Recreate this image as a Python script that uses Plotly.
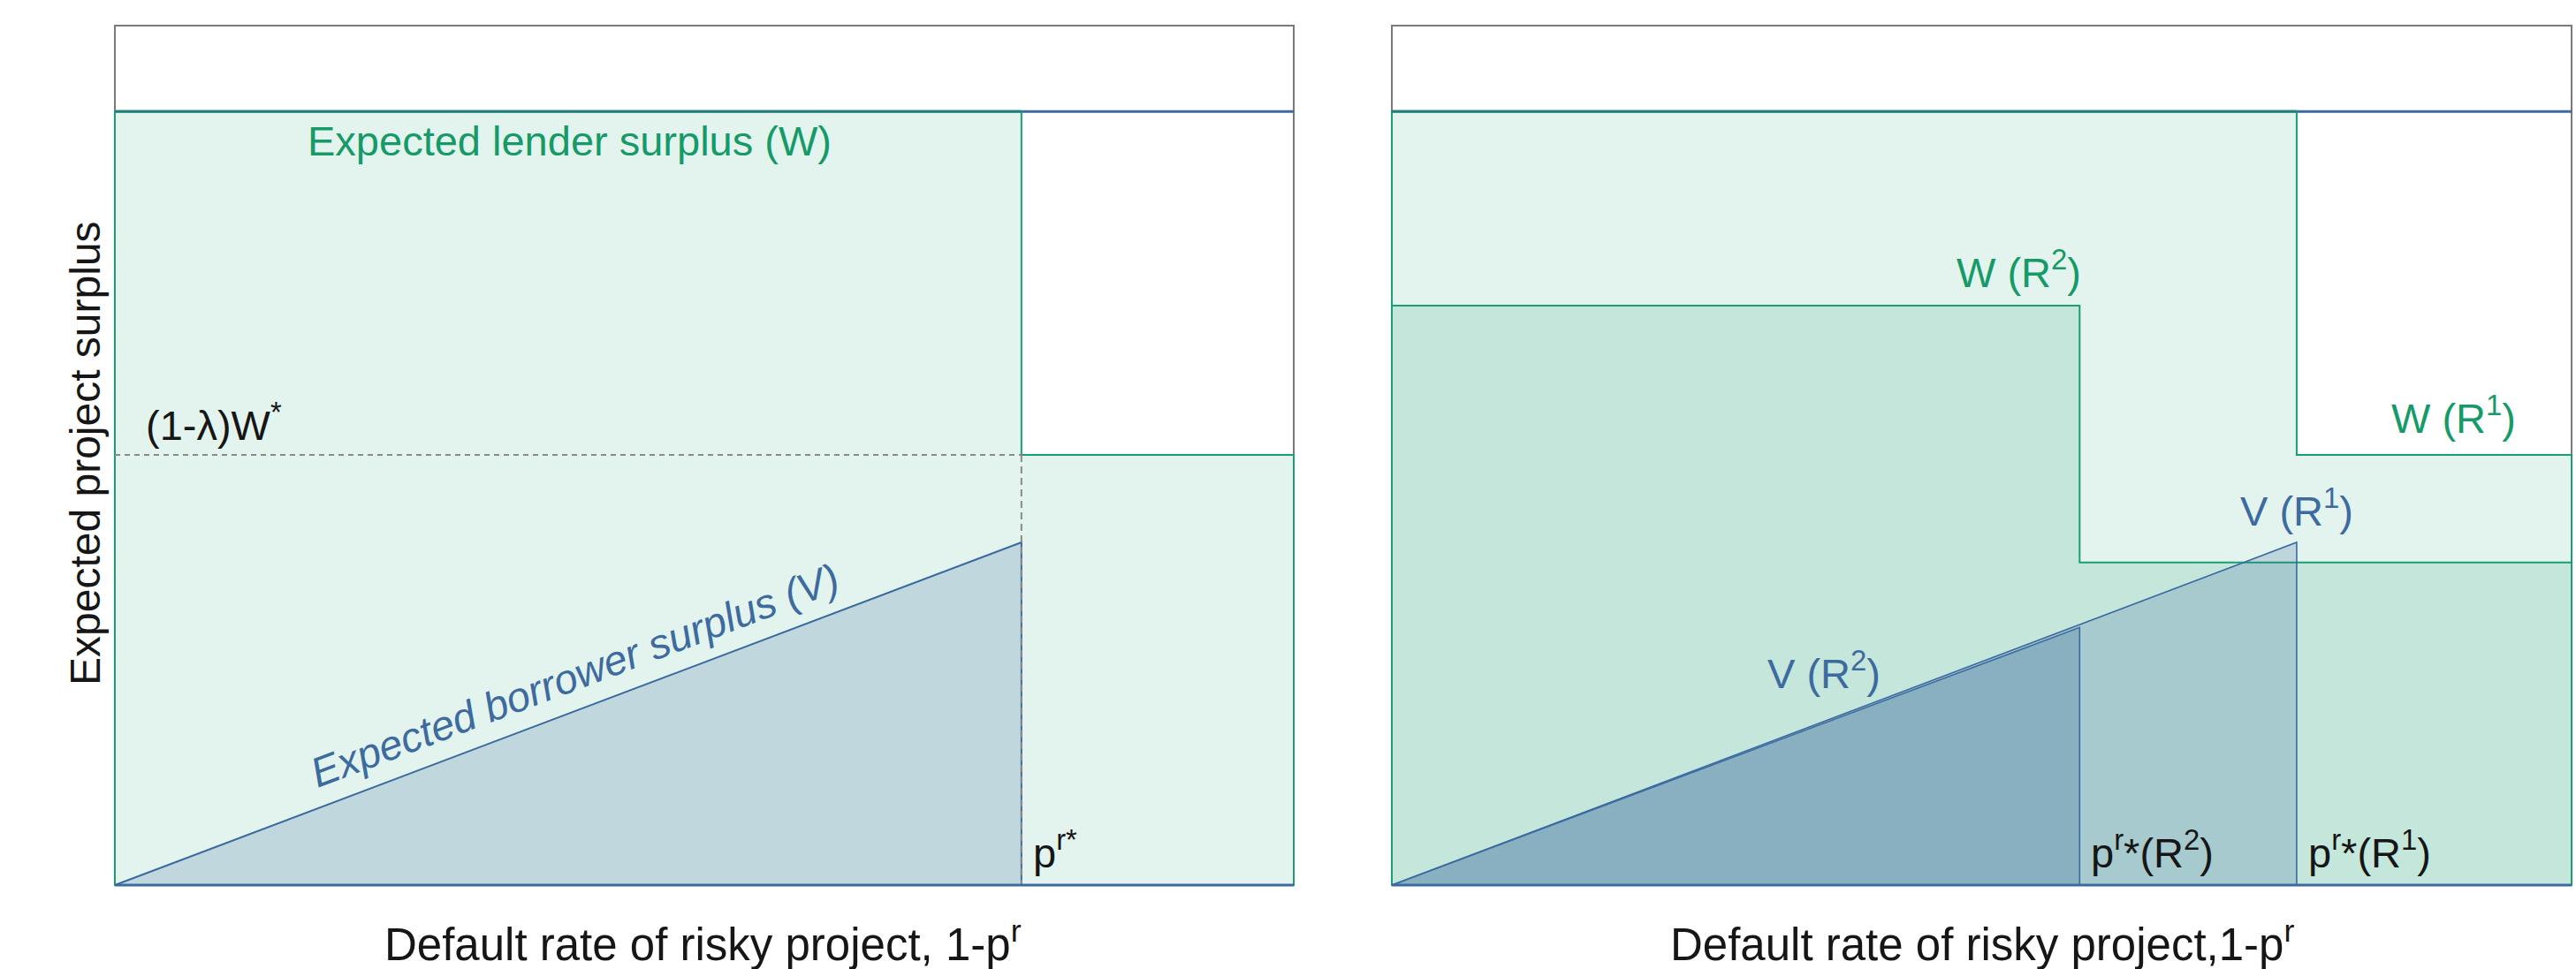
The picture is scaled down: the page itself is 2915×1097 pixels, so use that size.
import plotly.graph_objects as go

# ---------------- data ----------------
W_STAR = 1.0          # W* level
Y_TOP = 1.111         # top of the frame
X_END = 1.0           # right end of the default-rate axis

# left panel
L_PR_STAR = 0.769     # p^r*
L_W_LOW = 0.556       # (1-lambda) W*
L_V_PEAK = 0.443      # borrower surplus at p^r*

# right panel: index 0 -> R^2, index 1 -> R^1
R_LABELS = ["R<sup>2</sup>", "R<sup>1</sup>"]
R_PR_STAR = [0.583, 0.767]
R_W_HIGH = [0.749, 1.0]
R_W_LOW = [0.417, 0.556]
R_V_PEAK = [0.333, 0.443]

# ---------------- styles ----------------
FONT = "Liberation Sans, Arial, sans-serif"
FS = 47
GREEN = "#1a9f72"
GREEN_TXT = "#159a68"
TEAL = "#1f7f78"
BLUE = "#3b6aa0"
BLUE_TXT = "#3d6b9f"
GRAY = "#7a7a7a"
LIGHT = "#e3f4ee"
MID = "#c4e6db"

W, H = 2915, 1097
PX_X = 1334.0   # pixels per unit x
PX_Y = 876.0    # pixels per unit y
PAD = 2.0       # pixel padding around the frame


def step(x_break, hi, lo):
    xs = [0, 0, x_break, x_break, X_END, X_END, 0]
    ys = [0, hi, hi, lo, lo, 0, 0]
    return xs, ys


def line(fig, xs, ys, xa, ya, color, width, dash=None):
    fig.add_trace(go.Scatter(x=xs, y=ys, mode="lines", xaxis=xa, yaxis=ya,
                             line=dict(color=color, width=width, dash=dash),
                             hoverinfo="skip"))


fig = go.Figure()

# ---------- left panel ----------
xa, ya = "x", "y"
line(fig, [0, X_END], [W_STAR, W_STAR], xa, ya, BLUE, 3)
xs, ys = step(L_PR_STAR, W_STAR, L_W_LOW)
fig.add_trace(go.Scatter(x=xs, y=ys, mode="lines", fill="toself", fillcolor=LIGHT,
                         line=dict(color=GREEN, width=2), xaxis=xa, yaxis=ya,
                         hoverinfo="skip"))
line(fig, [0, L_PR_STAR], [W_STAR, W_STAR], xa, ya, TEAL, 3)
fig.add_trace(go.Scatter(x=[0, L_PR_STAR, L_PR_STAR, 0], y=[0, L_V_PEAK, 0, 0],
                         mode="lines", fill="toself", fillcolor="#c0d8dd",
                         line=dict(color=BLUE, width=2), xaxis=xa, yaxis=ya,
                         hoverinfo="skip"))
line(fig, [0, L_PR_STAR], [L_W_LOW, L_W_LOW], xa, ya, "#8a8a8a", 2, "6px,5px")
line(fig, [L_PR_STAR, L_PR_STAR], [L_W_LOW, 0], xa, ya, "#8a8a8a", 2, "8px,5px")
line(fig, [0, X_END], [0, 0], xa, ya, BLUE, 3)

# ---------- right panel ----------
xa, ya = "x2", "y2"
line(fig, [0, X_END], [W_STAR, W_STAR], xa, ya, BLUE, 3)
for i, fc in [(1, LIGHT), (0, MID)]:
    xs, ys = step(R_PR_STAR[i], R_W_HIGH[i], R_W_LOW[i])
    fig.add_trace(go.Scatter(x=xs, y=ys, mode="lines", fill="toself", fillcolor=fc,
                             line=dict(color=GREEN, width=2), xaxis=xa, yaxis=ya,
                             hoverinfo="skip"))
line(fig, [0, R_PR_STAR[1]], [W_STAR, W_STAR], xa, ya, TEAL, 3)
for i, fc in [(1, "rgba(59,106,160,0.22)"), (0, "rgba(59,106,160,0.27)")]:
    p = R_PR_STAR[i]
    fig.add_trace(go.Scatter(x=[0, p, p, 0], y=[0, R_V_PEAK[i], 0, 0], mode="lines",
                             fill="toself", fillcolor=fc,
                             line=dict(color=BLUE, width=1.6), xaxis=xa, yaxis=ya,
                             hoverinfo="skip"))
line(fig, [0, X_END], [0, 0], xa, ya, BLUE, 3)

# ---------- frames ----------
for xr, yr in [("x", "y"), ("x2", "y2")]:
    fig.add_shape(type="rect", xref=xr, yref=yr, x0=0, x1=X_END, y0=0, y1=Y_TOP,
                  line=dict(color=GRAY, width=2), fillcolor="rgba(0,0,0,0)", layer="below")

# ---------- axes ----------
px_pad_x = PAD / PX_X
px_pad_y = PAD / PX_Y
ax_common = dict(showgrid=False, zeroline=False, showticklabels=False, ticks="",
                 showline=False, fixedrange=True)
left_px = (130, 1464)
right_px = (1575, 2910)
top_px, bot_px = 29, 1002
ydom = [1 - (bot_px + PAD) / H, 1 - (top_px - PAD) / H]
fig.update_layout(
    xaxis=dict(domain=[(left_px[0] - PAD) / W, (left_px[1] + PAD) / W],
               range=[-px_pad_x, X_END + px_pad_x], anchor="y", **ax_common),
    yaxis=dict(domain=ydom, range=[-px_pad_y, Y_TOP + px_pad_y], anchor="x", **ax_common),
    xaxis2=dict(domain=[(right_px[0] - PAD) / W, (right_px[1] + PAD) / W],
                range=[-px_pad_x, X_END + px_pad_x], anchor="y2", **ax_common),
    yaxis2=dict(domain=ydom, range=[-px_pad_y, Y_TOP + px_pad_y], anchor="x2", **ax_common),
)

# ---------- annotations ----------
ann = []


def txt(text, x, y, xref, yref, color="#161616", xanchor="center", yanchor="middle",
        angle=0, size=FS):
    ann.append(dict(text=text, x=x, y=y, xref=xref, yref=yref, showarrow=False,
                    xanchor=xanchor, yanchor=yanchor, textangle=angle,
                    font=dict(family=FONT, size=size, color=color)))


# left panel texts
txt("Expected lender surplus (W)", 0.386, 0.962, "x", "y", color=GREEN_TXT)
txt("(1-\u03bb)W<sup>*</sup>", 0.025, 0.598, "x", "y", xanchor="left")
txt("<i>Expected borrower surplus (V)</i>", 0.39, 0.271, "x", "y", color=BLUE_TXT,
    angle=-20.7)
txt("p<sup>r*</sup>", L_PR_STAR + 0.008, 0.046, "x", "y", xanchor="left")
txt("<i>W</i><sup>*</sup>", -0.009, W_STAR, "x", "y", xanchor="right", size=49)
txt("0", 0, -0.034, "x", "y", size=48)

# right panel texts
txt("W (" + R_LABELS[0] + ")", R_PR_STAR[0] + 0.003, R_W_HIGH[0] + 0.047, "x2", "y2",
    color=GREEN_TXT, xanchor="right")
txt("W (" + R_LABELS[1] + ")", 0.900, R_W_LOW[1] + 0.052, "x2", "y2", color=GREEN_TXT)
txt("V (" + R_LABELS[1] + ")", R_PR_STAR[1], R_V_PEAK[1] + 0.045, "x2", "y2",
    color=BLUE_TXT)
txt("V (" + R_LABELS[0] + ")", 0.366, 0.277, "x2", "y2", color=BLUE_TXT)
for i in range(2):
    txt("p<sup>r</sup>*(" + R_LABELS[i] + ")", R_PR_STAR[i] + 0.008, 0.046, "x2", "y2",
        xanchor="left")
txt("0", 0, -0.034, "x2", "y2", size=48)

# axis titles
txt("Default rate of risky project, 1-p<sup>r</sup>", 796 / W, 1 - 1066 / H,
    "paper", "paper", size=51)
txt("Default rate of risky project,1-p<sup>r</sup>", 2243 / W, 1 - 1066 / H,
    "paper", "paper", size=51)
txt("Expected project surplus", 96 / W, 1 - 513 / H, "paper", "paper", angle=-90,
    size=48)

fig.update_layout(
    width=W, height=H, autosize=False,
    margin=dict(l=0, r=0, t=0, b=0, pad=0),
    paper_bgcolor="white", plot_bgcolor="white",
    showlegend=False, annotations=ann,
    font=dict(family=FONT, size=FS, color="#161616"),
)

fig.write_html("out.html", config={"displayModeBar": False},
               post_script="document.body.style.margin='0';")
